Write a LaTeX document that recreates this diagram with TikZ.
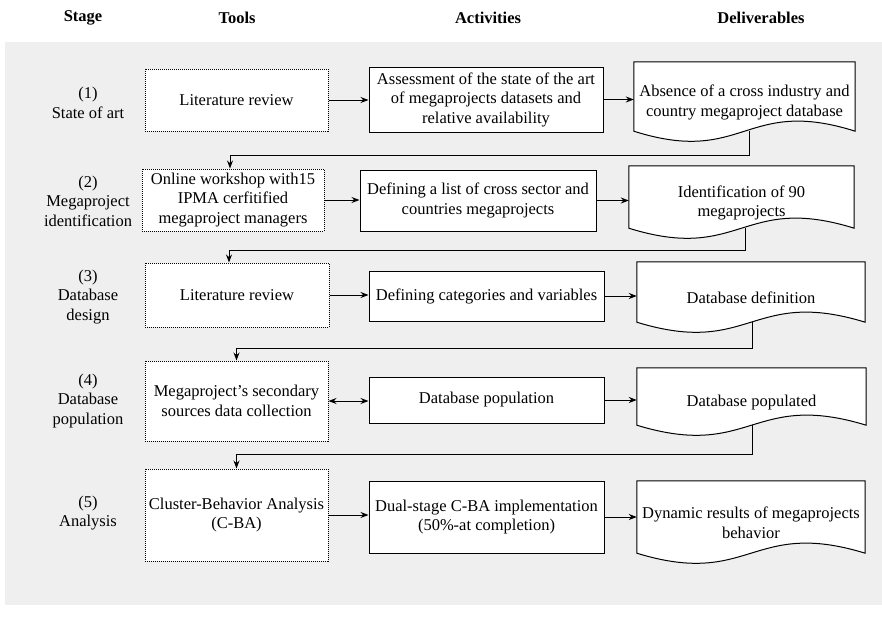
\documentclass[tikz,border=0pt]{standalone}
\usepackage{fontspec}
\setmainfont{Liberation Serif}
\usetikzlibrary{arrows.meta,calc}
\pgfdeclarelayer{bg}
\pgfdeclarelayer{conn}
\pgfdeclarelayer{shp}
\pgfsetlayers{bg,conn,shp,main}
\definecolor{panel}{HTML}{EFEFEF}
\begin{document}
\begin{tikzpicture}[x=1pt,y=-1pt,
  font=\fontsize{16.5}{19.5}\selectfont,
  tool/.style={draw, densely dotted, fill=white, align=center, inner sep=0pt, line width=1pt},
  act/.style={draw, fill=white, align=center, inner sep=0pt, line width=1pt},
  deliv/.style={align=center, inner sep=0pt},
  stagelbl/.style={align=center},
  hdr/.style={font=\fontsize{16.5}{19.5}\selectfont\bfseries},
  arr/.style={-{Stealth[length=8pt,width=6pt]}, line width=1pt},
  darr/.style={{Stealth[length=8pt,width=6pt]}-{Stealth[length=8pt,width=6pt]}, line width=1pt},
  conline/.style={-{Stealth[length=8pt,width=6pt]}, line width=1pt},
  docshape/.style={draw, fill=white, line width=1pt}]
\useasboundingbox (0,0) rectangle (882,618);
\begin{pgfonlayer}{bg}
  \fill[panel] (5,42) rectangle (882,605);
\end{pgfonlayer}

% headers
\node[hdr] (hs) at (83,18) {Stage};
\node[hdr] (ht) at (237,18) {Tools};
\node[hdr] (ha) at (488,18) {Activities};
\node[hdr] (hd) at (761,18) {Deliverables};

% stage labels
\node[stagelbl] (s1) at (88,103) {(1)\\State of art};
\node[stagelbl] (s2) at (88,201) {(2)\\Megaproject\\identification};
\node[stagelbl] (s3) at (88,297) {(3)\\Database\\design};
\node[stagelbl] (s4) at (88,401) {(4)\\Database\\population};
\node[stagelbl] (s5) at (88,513) {(5)\\Analysis};

% tools
\node[tool, minimum width=183pt, minimum height=62pt] (t1) at (236.5,100) {Literature review};
\node[tool, minimum width=182pt, minimum height=62pt] (t2) at (233,200) {Online workshop with15\\IPMA cerfitified\\megaproject managers};
\node[tool, minimum width=184pt, minimum height=64pt] (t3) at (237,295) {Literature review};
\node[tool, minimum width=183pt, minimum height=80pt] (t4) at (236.5,401) {Megaproject’s secondary\\sources data collection};
\node[tool, minimum width=183pt, minimum height=92pt] (t5) at (236.5,515) {Cluster-Behavior Analysis\\(C-BA)};

% activities
\node[act, minimum width=234pt, minimum height=65pt] (a1) at (486,99.5) {Assessment of the state of the art\\of megaprojects datasets and\\relative availability};
\node[act, minimum width=236pt, minimum height=61pt] (a2) at (478,200.5) {Defining a list of cross sector and\\countries megaprojects};
\node[act, minimum width=235pt, minimum height=50pt] (a3) at (486.5,296) {Defining categories and variables};
\node[act, minimum width=235pt, minimum height=46pt] (a4) at (486.5,400) {Database population};
\node[act, minimum width=235pt, minimum height=72pt] (a5) at (486.5,517) {Dual-stage C-BA implementation\\(50\%-at completion)};

% deliverables (text nodes; shapes drawn on layer below)
\node[deliv, minimum width=221pt, minimum height=81pt] (d1) at (744.5,102.5) {Absence of a cross industry and\\country megaproject database};
\node[deliv, minimum width=225pt, minimum height=74pt] (d2) at (741.5,203) {Identification of 90\\megaprojects};
\node[deliv, minimum width=228pt, minimum height=72pt] (d3) at (751,298) {Database definition};
\node[deliv, minimum width=229pt, minimum height=69pt] (d4) at (751.5,402.5) {Database populated};
\node[deliv, minimum width=228pt, minimum height=84pt] (d5) at (751,523) {Dynamic results of megaprojects\\behavior};

\begin{pgfonlayer}{shp}
  \foreach \d in {d1,d2,d3,d4,d5}{
    \draw[docshape] (\d.north west) -- (\d.north east) -- ($(\d.south east)+(0,-12)$)
      .. controls ($(\d.south)+(0,-47)$) and ($(\d.south)+(0,23)$) .. ($(\d.south west)+(0,-12)$) -- cycle;
  }
\end{pgfonlayer}

% horizontal arrows
\draw[arr] (t1.east) -- (t1.east -| a1.west);
\draw[arr] (a1.east) -- (a1.east -| d1.west);
\draw[arr] (t2.east) -- (t2.east -| a2.west);
\draw[arr] (a2.east) -- (a2.east -| d2.west);
\draw[arr] (t3.east) -- (t3.east -| a3.west);
\draw[arr] (a3.east) -- (a3.east -| d3.west);
\draw[darr] (t4.east) -- (t4.east -| a4.west);
\draw[arr] (a4.east) -- (a4.east -| d4.west);
\draw[arr] (t5.east) -- (t5.east -| a5.west);
\draw[arr] (a5.east) -- (a5.east -| d5.west);

% stage-to-stage connectors
\coordinate (k1) at (0,155);
\coordinate (k2) at (0,250);
\coordinate (k3) at (0,348);
\coordinate (k4) at (0,454);
\coordinate (e2) at ($(t2.north)+(-3,0)$);
\coordinate (e3) at ($(t3.north)+(-8,0)$);
\coordinate (e4) at (t4.north);
\coordinate (e5) at (t5.north);
\coordinate (b1) at ($(d1.south)+(5,-12)$);
\coordinate (b2) at ($(d2.south)+(4,-12)$);
\coordinate (b3) at ($(d3.south)+(1,-12)$);
\coordinate (b4) at ($(d4.south)+(0.5,-12)$);
\begin{pgfonlayer}{conn}
  \draw[conline] (b1) -- (b1 |- k1) -| (e2);
  \draw[conline] (b2) -- (b2 |- k2) -| (e3);
  \draw[conline] (b3) -- (b3 |- k3) -| (e4);
  \draw[conline] (b4) -- (b4 |- k4) -| (e5);
\end{pgfonlayer}
\end{tikzpicture}
\end{document}
